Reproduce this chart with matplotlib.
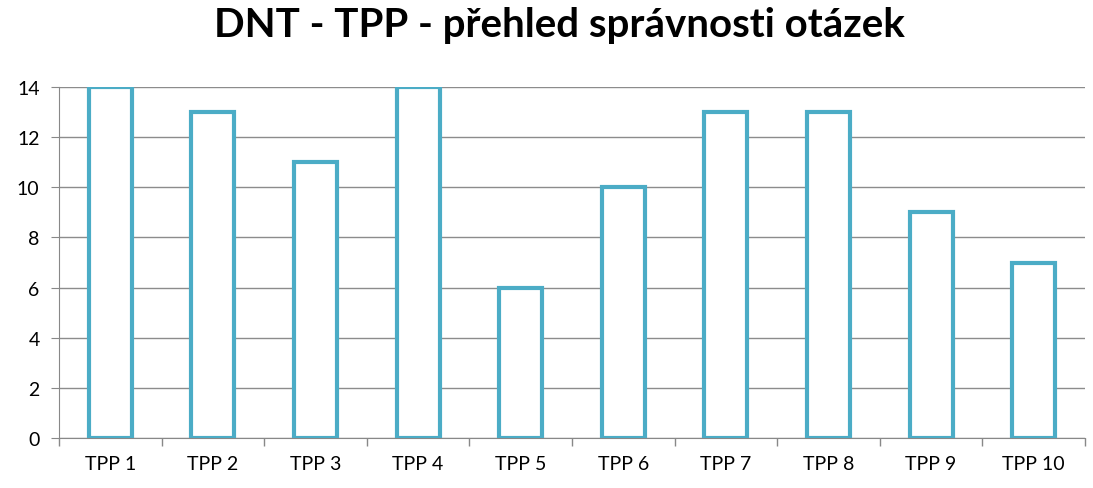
import numpy as np
import matplotlib.pyplot as plt

categories = ["TPP 1", "TPP 2", "TPP 3", "TPP 4", "TPP 5", "TPP 6", "TPP 7", "TPP 8", "TPP 9", "TPP 10"]
values = [14, 13, 11, 14, 6, 10, 13, 13, 9, 7]

plt.rcParams['font.family'] = ['Lato', 'DejaVu Sans']

fig = plt.figure(figsize=(10.93, 4.89), dpi=100)
ax = fig.add_axes([0.054, 0.102, 0.9387, 0.718])

x = np.arange(len(categories))
ax.bar(x, values, width=0.42, facecolor='white', edgecolor='#4bacc6', linewidth=3, zorder=3)

ax.set_xlim(-0.5, len(categories) - 0.5)
ax.set_ylim(0, 14)
ax.set_yticks(range(0, 15, 2))
ax.set_xticks(x)
ax.set_xticklabels(categories, fontsize=14)
ax.set_xticks(np.arange(-0.5, len(categories), 1), minor=True)
ax.tick_params(axis='x', which='major', length=0, pad=12)
ax.tick_params(axis='x', which='minor', length=6, color='#888888', width=1)
ax.tick_params(axis='y', length=6, color='#888888', labelsize=14, pad=8)

ax.grid(axis='y', color='#8c8c8c', linewidth=1, zorder=0)
for s in ['top', 'right']:
    ax.spines[s].set_visible(False)
for s in ['left', 'bottom']:
    ax.spines[s].set_color('#888888')

fig.suptitle("DNT - TPP - přehled správnosti otázek", fontsize=29, fontweight='bold',
             x=0.512, y=0.985)

fig.savefig("out.png", dpi=100)
